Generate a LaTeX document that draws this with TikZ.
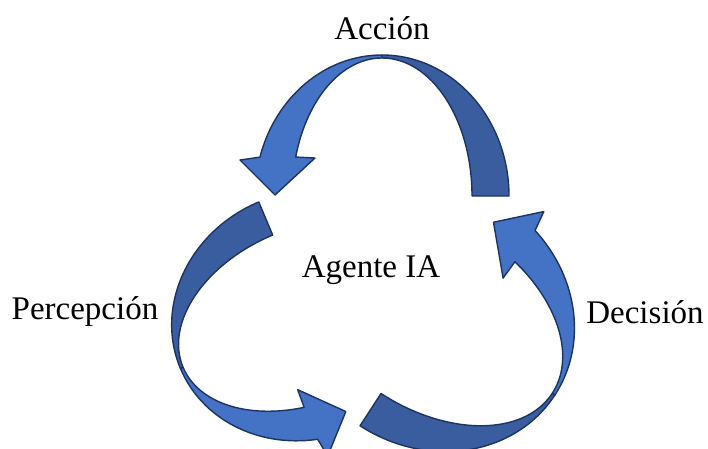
\documentclass[tikz,border=0pt]{standalone}
\usepackage{fontspec}
\setmainfont{Liberation Serif}
\definecolor{front}{HTML}{4472C4}
\definecolor{back}{HTML}{3A5DA0}
\definecolor{edge}{HTML}{1C3461}
\tikzset{
 frontpart/.style={fill=front, draw=edge, line width=1.4pt, line join=round},
 backpart/.style={fill=back, draw=edge, line width=1.4pt, line join=round},
 lbl/.style={font=\fontsize{33}{36}\selectfont, inner sep=0pt}
}
\newcommand{\cyclearrow}[4]{%
 \begin{scope}[shift={(#1,#2)}, rotate=#3, scale=#4]
  \draw[backpart] (127,0) arc[start angle=0,end angle=90,x radius=127,y radius=141] -- (0,138) arc[start angle=90,end angle=0,x radius=90,y radius=138] -- cycle;
  \draw[frontpart] (0,141) arc[start angle=90,end angle=164,x radius=127,y radius=141] -- (-142,36) -- (-107,1) -- (-67,38) -- (163.6:90 and 138) arc[start angle=163.6,end angle=90,x radius=90,y radius=138] -- cycle;
 \end{scope}}
\begin{document}
\begin{tikzpicture}[x=1pt,y=1pt]
\useasboundingbox (0,0) rectangle (708,448);
\cyclearrow{382}{252}{0}{1}
\cyclearrow{306.5}{132.5}{112.8}{0.97}
\cyclearrow{432}{133}{-123}{1.04}
\node[lbl] (accion) at (382,420) {Acción};
\node[lbl] (agente) at (371,178) {Agente IA};
\node[lbl] (percepcion) at (85,136) {Percepción};
\node[lbl] (decision) at (645,136) {Decisión};
\end{tikzpicture}
\end{document}
